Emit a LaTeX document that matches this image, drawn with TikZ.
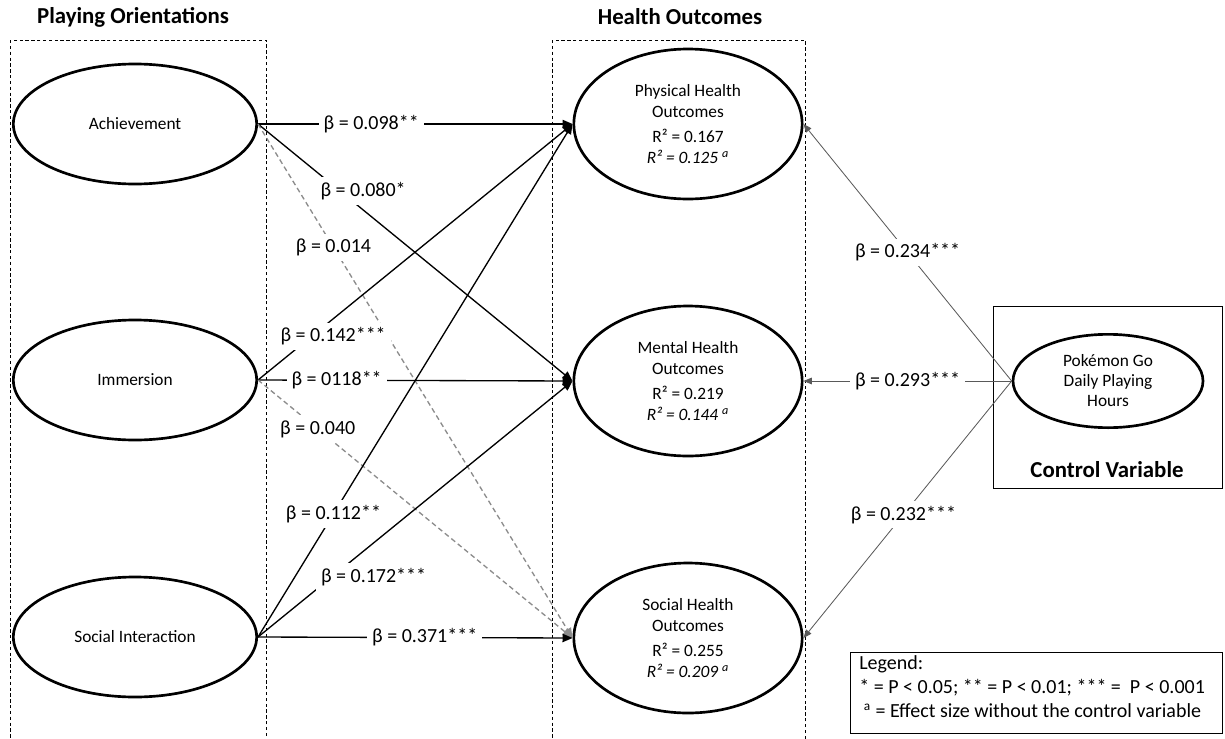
\documentclass[tikz,border=0pt]{standalone}
\usepackage{fontspec}
\setmainfont{Carlito}
\usetikzlibrary{shapes.geometric,arrows.meta}

\begin{document}
\begin{tikzpicture}[x=0.6pt,y=-0.6pt,
	oval/.style={ellipse,draw,line width=1.6pt,inner sep=0pt,align=center,font=\fontsize{10.4}{12.6}\selectfont},
	orient/.style={oval,minimum width=146pt,minimum height=72pt},
	outcome/.style={oval,minimum width=137pt,minimum height=90pt},
	sig/.style={draw,line width=0.8pt,-{Triangle[length=6pt,width=5pt]}},
	nonsig/.style={sig,black!45,dash pattern=on 3pt off 2pt},
	ctrl/.style={draw,line width=0.5pt,black!65,-{Triangle[length=5pt,width=4pt]}},
	beta/.style={fill=white,inner sep=3pt,font=\fontsize{12}{14}\selectfont,text=black},
	title/.style={font=\bfseries\fontsize{13.7}{16}\selectfont},
	frame/.style={draw,line width=0.6pt,dash pattern=on 2pt off 1.5pt}]
		\useasboundingbox (0,0) rectangle (1225,738);
		\node[title] (t1) at (133,17) {Playing Orientations};
		\node[title] (t2) at (680,17) {Health Outcomes};
		\draw[frame] (10,40) rectangle (266,750);
		\draw[frame] (552,40) rectangle (805,750);
		\draw[line width=0.6pt] (993,306) rectangle (1222,488);
		\draw[line width=0.6pt] (850,652) rectangle (1222,733);
		\node[title] (t3) at (1107,470) {Control Variable};
		\node[orient] (ach) at (135,124) {Achievement};
		\node[orient] (imm) at (135,380) {Immersion};
		\node[orient] (soc) at (135,637) {Social Interaction};
		\node[outcome] (phys) at (688,124) {Physical Health\\Outcomes\\[2pt]R² = 0.167\\\textit{R² = 0.125 \textsuperscript{a}}};
		\node[outcome] (ment) at (688,381) {Mental Health\\Outcomes\\[2pt]R² = 0.219\\\textit{R² = 0.144 \textsuperscript{a}}};
		\node[outcome] (shlt) at (688,638) {Social Health\\Outcomes\\[2pt]R² = 0.255\\\textit{R² = 0.209 \textsuperscript{a}}};
		\node[oval,minimum width=114pt,minimum height=56pt,font=\fontsize{10.4}{12}\selectfont] (poke) at (1108,381) {Pokémon Go\\Daily Playing\\Hours};
		\draw[sig] (ach.east) -- node[beta,pos=0.36] {β = 0.098**} (phys.west);
		\draw[sig] (ach.east) -- node[beta,pos=0.26,xshift=14pt] {β = 0.080*} (ment.west);
		\draw[nonsig] (ach.east) -- node[beta,pos=0.24] {β = 0.014} (shlt.west);
		\draw[sig] (imm.east) -- node[beta,pos=0.17,xshift=13pt] {β = 0.142***} (phys.west);
		\draw[sig] (imm.east) -- node[beta,pos=0.25] {β = 0118**} (ment.west);
		\draw[nonsig] (imm.east) -- node[beta,pos=0.19] {β = 0.040} (shlt.west);
		\draw[sig] (soc.east) -- node[beta,pos=0.24] {β = 0.112**} (phys.west);
		\draw[sig] (soc.east) -- node[beta,pos=0.235,xshift=25pt] {β = 0.172***} (ment.west);
		\draw[sig] (soc.east) -- node[beta,pos=0.53] {β = 0.371***} (shlt.west);
		\draw[ctrl] (poke.west) -- node[beta,pos=0.5] {β = 0.234***} (phys.east);
		\draw[ctrl] (poke.west) -- node[beta,pos=0.5] {β = 0.293***} (ment.east);
		\draw[ctrl] (poke.west) -- node[beta,pos=0.52] {β = 0.232***} (shlt.east);
		\node[anchor=north west,align=left,inner sep=0pt,font=\fontsize{12}{14.6}\selectfont] (leg) at (859,655) {Legend:\\* = P < 0.05; ** = P < 0.01; *** =~ P < 0.001\\~\textsuperscript{a} = Effect size without the control variable};
\end{tikzpicture}
\end{document}
